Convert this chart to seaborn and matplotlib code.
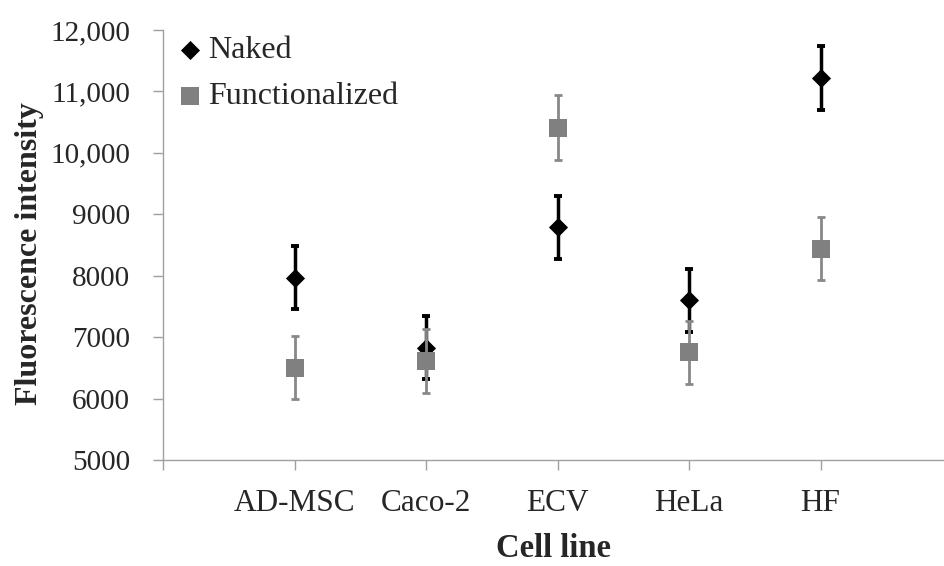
import numpy as np
import pandas as pd
import matplotlib.pyplot as plt
import seaborn as sns
from matplotlib.ticker import FixedLocator, FixedFormatter

sns.set_theme(style="white", context="paper")
plt.rcParams['font.family'] = ['Liberation Serif', 'DejaVu Serif']

# data
cell_lines = ["AD-MSC", "Caco-2", "ECV", "HeLa", "HF"]
naked = [7970, 6830, 8785, 7600, 11220]
naked_err = [515, 515, 515, 515, 520]
functionalized = [6505, 6615, 10410, 6750, 8440]
functionalized_err = [510, 520, 525, 520, 510]
ytick_values = [5000, 6000, 7000, 8000, 9000, 10000, 11000, 12000]
ytick_labels = ["5000", "6000", "7000", "8000", "9000", "10,000", "11,000", "12,000"]

df = pd.DataFrame({
    "pos": np.arange(len(cell_lines)),
    "cell": cell_lines,
    "Naked": naked,
    "naked_err": naked_err,
    "Functionalized": functionalized,
    "func_err": functionalized_err,
})

fig = plt.figure(figsize=(9.44, 5.66), dpi=100)
# the category axis runs a bit past the right edge, as in the source
ax = fig.add_axes([0.1727, 0.1873, 0.8358, 0.7597])

black = "#000000"
gray = "#808080"
gray_bar = "#888888"
axis_gray = "#a0a0a0"

# naked series
ax.errorbar(df["pos"], df["Naked"], yerr=df["naked_err"], fmt="none",
            ecolor=black, elinewidth=2.5, capsize=3, capthick=2.8, zorder=2)
sns.scatterplot(data=df, x="pos", y="Naked", marker="D", s=95, color=black,
                edgecolor=black, linewidth=0, label="Naked", ax=ax, zorder=3)

# functionalized series, drawn on top
ax.errorbar(df["pos"], df["Functionalized"], yerr=df["func_err"], fmt="none",
            ecolor=gray_bar, elinewidth=2.0, capsize=3, capthick=2.0, zorder=4)
sns.scatterplot(data=df, x="pos", y="Functionalized", marker="s", s=175, color=gray,
                edgecolor=gray, linewidth=0, label="Functionalized", ax=ax, zorder=5)

ax.set_xlim(-1, 5)
ax.set_ylim(5000, 12000)
ax.set_xticks(df["pos"])
ax.set_xticks([-1], minor=True)
ax.set_xticklabels(cell_lines, fontsize=22.5)
ax.yaxis.set_major_locator(FixedLocator(ytick_values))
ax.yaxis.set_major_formatter(FixedFormatter(ytick_labels))
ax.tick_params(axis="y", labelsize=21, length=7.2, width=1.0, color=axis_gray,
               direction="out", left=True, pad=16.5)
ax.tick_params(axis="x", which="both", length=7.2, width=1.0, color=axis_gray,
               direction="out", bottom=True, pad=14)

for side in ["top", "right"]:
    ax.spines[side].set_visible(False)
for side in ["left", "bottom"]:
    ax.spines[side].set_color(axis_gray)
    ax.spines[side].set_linewidth(1.0)

ax.set_xlabel("Cell line", fontsize=23.5, fontweight="bold")
ax.set_ylabel("Fluorescence intensity", fontsize=23, fontweight="bold")
ax.xaxis.set_label_coords(0.495, -0.17)
ax.yaxis.set_label_coords(-0.151, 0.48)

ax.legend(loc="upper left", bbox_to_anchor=(0.1911, 0.937),
          bbox_transform=fig.transFigure, frameon=False, fontsize=23,
          handlelength=0.6, handletextpad=0.26, labelspacing=0.52,
          borderpad=0, borderaxespad=0)

fig.savefig("out.png", dpi=100)
